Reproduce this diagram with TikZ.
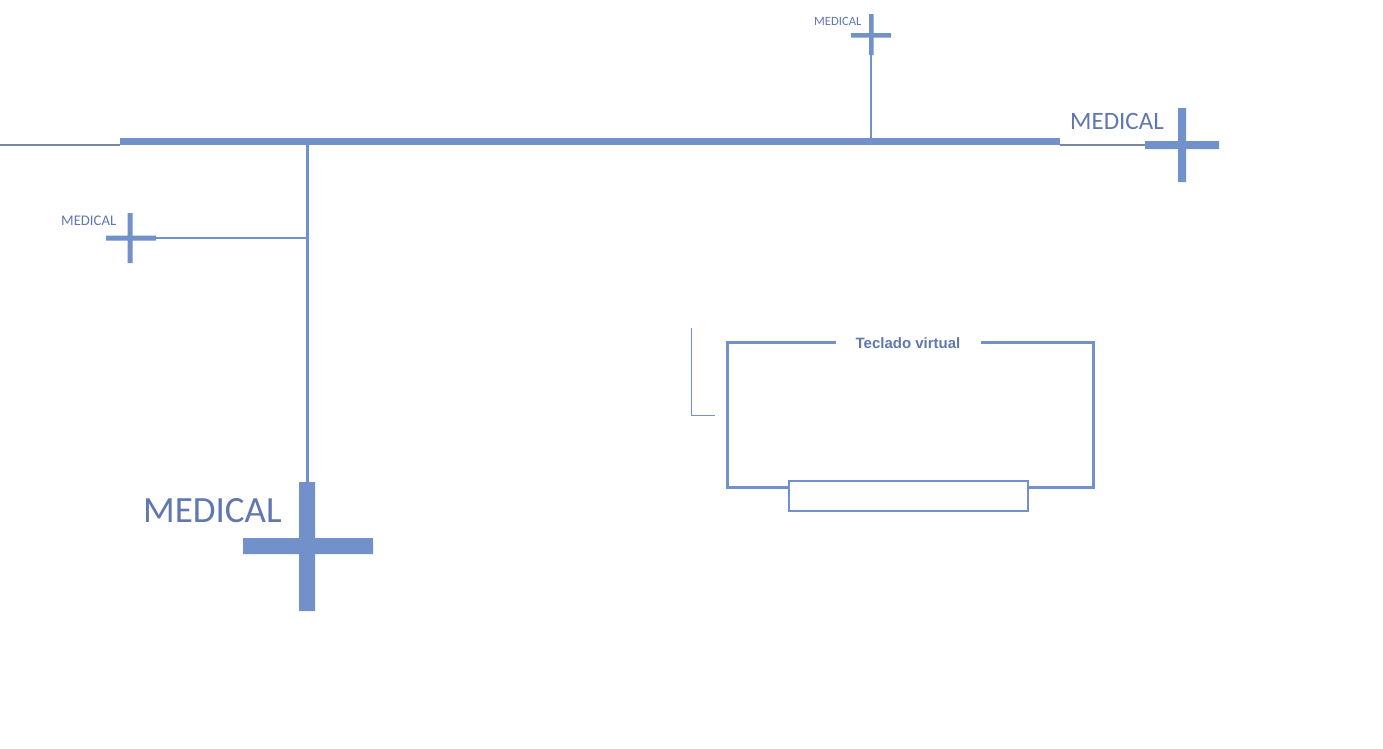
\documentclass[tikz,border=0pt]{standalone}
\usepackage{fontspec}
\setmainfont{Carlito}
\newfontfamily\arialfont{Liberation Sans}
\usepackage{tikz}
\definecolor{cross blue}{RGB}{114, 144, 202}
\definecolor{label blue}{RGB}{96, 120, 176}
\definecolor{wire gray}{RGB}{118, 134, 166}

\begin{document}
\begin{tikzpicture}[x=1pt, y=-1pt,
		label/.style = {text=label blue, inner sep=0, anchor=base west},
		wire/.style = {draw=wire gray, line width=1.5}]
		\useasboundingbox[fill=white] (0, 0) rectangle (1383, 748);
		% main bus
		\coordinate (busin) at (0, 145);
		\coordinate (busl) at (120, 141);
		\coordinate (busr) at (1060, 141);
		\coordinate (busout) at (1145, 145);
		\draw[wire] (busin) -- (busin -| busl);
		\draw[cross blue, line width=7] (busl) -- (busr);
		\draw[wire] (busout -| busr) -- (busout);
		% right cross
		\coordinate (rc) at (1182, 145);
		\fill[cross blue] (1178, 108) rectangle (1186, 182)
			(1145, 141) rectangle (1219, 149);
		\node[label, font=\fontsize{25}{25}\selectfont] (rlabel) at (1070, 129) {MEDICAL};
		% top cross
		\coordinate (tc) at (871, 35);
		\fill[cross blue] (869, 14) rectangle (873.5, 55)
			(851, 33) rectangle (891, 37.5);
		\draw[cross blue, line width=2] (tc |- 0, 55) -- (tc |- busr);
		\node[label, font=\fontsize{12.6}{12.6}\selectfont] (tlabel) at (814, 25) {MEDICAL};
		% drop line
		\coordinate (drop) at (307, 145);
		\coordinate (dropend) at (307, 482);
		\draw[cross blue, line width=3] (drop) -- (dropend);
		% left cross
		\coordinate (lc) at (130, 238);
		\fill[cross blue] (127.5, 213) rectangle (132.5, 263)
			(106, 235.5) rectangle (156, 240.5);
		\draw[cross blue, line width=1.5] (156, 238) -- (lc -| drop);
		\node[label, font=\fontsize{14.7}{14.7}\selectfont] (llabel) at (61, 225) {MEDICAL};
		% big cross
		\fill[cross blue] (299, 482) rectangle (315, 611)
			(243, 538) rectangle (373, 554);
		\node[label, font=\fontsize{37}{37}\selectfont] (blabel) at (143, 522) {MEDICAL};
		% keyboard frame
		\coordinate (kbnw) at (727, 342);
		\coordinate (kbse) at (1093, 487);
		\draw[cross blue, line width=3] (836, 342) -- (kbnw) -- (kbnw |- kbse) -- (kbse)
			-- (kbse |- kbnw) -- (981, 342);
		\node[text=label blue, inner sep=0, anchor=base,
			font=\arialfont\bfseries\fontsize{15}{15}\selectfont] (kblabel) at (908, 348) {Teclado virtual};
		\draw[cross blue, line width=2, fill=white] (789, 481) rectangle (1028, 511);
		% bracket
		\draw[cross blue, line width=1] (691, 328) -- (691, 415) -- (715, 415);
	\end{tikzpicture}
\end{document}
